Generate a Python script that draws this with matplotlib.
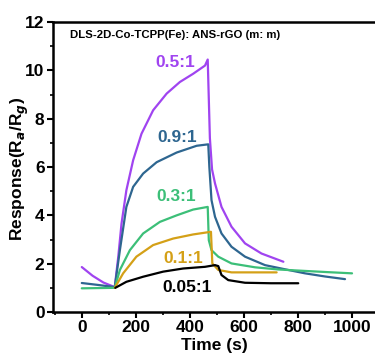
import matplotlib
matplotlib.use("Agg")
import matplotlib.pyplot as plt
from matplotlib.ticker import MultipleLocator

plt.rcParams['font.family'] = ['Liberation Sans', 'DejaVu Sans']
plt.rcParams['font.weight'] = 'bold'

# ---- data ----
t_05 = [0, 40, 80, 122, 135, 147, 165, 190, 221, 264, 314, 363, 412, 456, 466,
        474, 482, 493, 517, 554, 604, 665, 746]
r_05 = [1.86, 1.5, 1.22, 1.03, 2.29, 3.66, 5.04, 6.28, 7.38, 8.35, 9.04, 9.52, 9.86, 10.2, 10.45,
        7.2, 5.9, 5.32, 4.35, 3.53, 2.84, 2.42, 2.08]

t_09 = [0, 60, 122, 141, 165, 190, 227, 277, 351, 425, 468,
        472, 480, 493, 517, 554, 604, 678, 764, 826, 900, 974]
r_09 = [1.2, 1.12, 1.03, 2.56, 4.35, 5.18, 5.73, 6.2, 6.6, 6.88, 6.94,
        6.0, 4.63, 3.94, 3.25, 2.7, 2.29, 1.94, 1.74, 1.6, 1.47, 1.36]

t_03 = [0, 60, 122, 141, 178, 227, 289, 351, 412, 466,
        470, 480, 505, 554, 641, 727, 826, 910, 1000]
r_03 = [0.98, 0.99, 1.0, 1.74, 2.56, 3.25, 3.73, 4.0, 4.24, 4.35,
        2.97, 2.56, 2.29, 2.01, 1.85, 1.76, 1.7, 1.65, 1.6]

t_01 = [122, 153, 202, 264, 338, 412, 478,
        483, 505, 554, 640, 721]
r_01 = [1.0, 1.6, 2.29, 2.77, 3.04, 3.21, 3.32,
        2.01, 1.74, 1.64, 1.64, 1.64]

t_005 = [124, 165, 227, 301, 375, 456, 493, 505,
         517, 542, 604, 700, 801]
r_005 = [1.0, 1.25, 1.46, 1.67, 1.8, 1.87, 1.94, 1.9,
         1.53, 1.32, 1.21, 1.19, 1.19]

labels = ["0.5:1", "0.9:1", "0.3:1", "0.1:1", "0.05:1"]
label_t = [347, 353, 351, 377, 390]
label_r = [10.34, 7.24, 4.77, 2.22, 1.0]
colors = ["#a044f0", "#2e6690", "#3cbf78", "#d4a017", "#000000"]

title = "DLS-2D-Co-TCPP(Fe): ANS-rGO (m: m)"

# ---- plot ----
fig = plt.figure(figsize=(3.75, 3.56), dpi=100)
ax = fig.add_axes([0.141, 0.1236, 0.859, 0.8144])

series = [(t_05, r_05), (t_09, r_09), (t_03, r_03), (t_01, r_01), (t_005, r_005)]
for (t, r), c in zip(series, colors):
    ax.plot(t, r, color=c, lw=1.6, solid_joinstyle='round', solid_capstyle='round')

for lab, x, y, c in zip(labels, label_t, label_r, colors):
    ax.text(x, y, lab, color=c, fontsize=12.5, fontweight='bold', ha='center', va='center')

ax.text(-44, 11.45, title, fontsize=8.2, fontweight='bold', ha='left', va='center')

ax.set_xlim(-107, 1085)
ax.set_ylim(0, 12)
ax.set_xticks([0, 200, 400, 600, 800, 1000])
ax.set_yticks([0, 2, 4, 6, 8, 10, 12])
ax.xaxis.set_minor_locator(MultipleLocator(100))
ax.yaxis.set_minor_locator(MultipleLocator(1))
ax.tick_params(axis='both', which='major', direction='out', length=4, width=1.5,
               labelsize=12.5, pad=2)
ax.tick_params(axis='both', which='minor', direction='out', length=2.5, width=1.2)
for lab in ax.get_xticklabels() + ax.get_yticklabels():
    lab.set_fontweight('bold')

ax.spines['right'].set_visible(False)
for s in ['left', 'bottom', 'top']:
    ax.spines[s].set_linewidth(1.8)

ax.set_xlabel("Time (s)", fontsize=12.5, fontweight='bold')
ax.xaxis.set_label_coords(0.5, -0.09)
ax.set_ylabel(r"Response(R$_{\it{a}}$/R$_{\it{g}}$)", fontsize=12.5, fontweight='bold')
ax.yaxis.set_label_coords(-0.102, 0.493)
ax.yaxis.label.set_va('center')

fig.savefig("out.png", dpi=100)
